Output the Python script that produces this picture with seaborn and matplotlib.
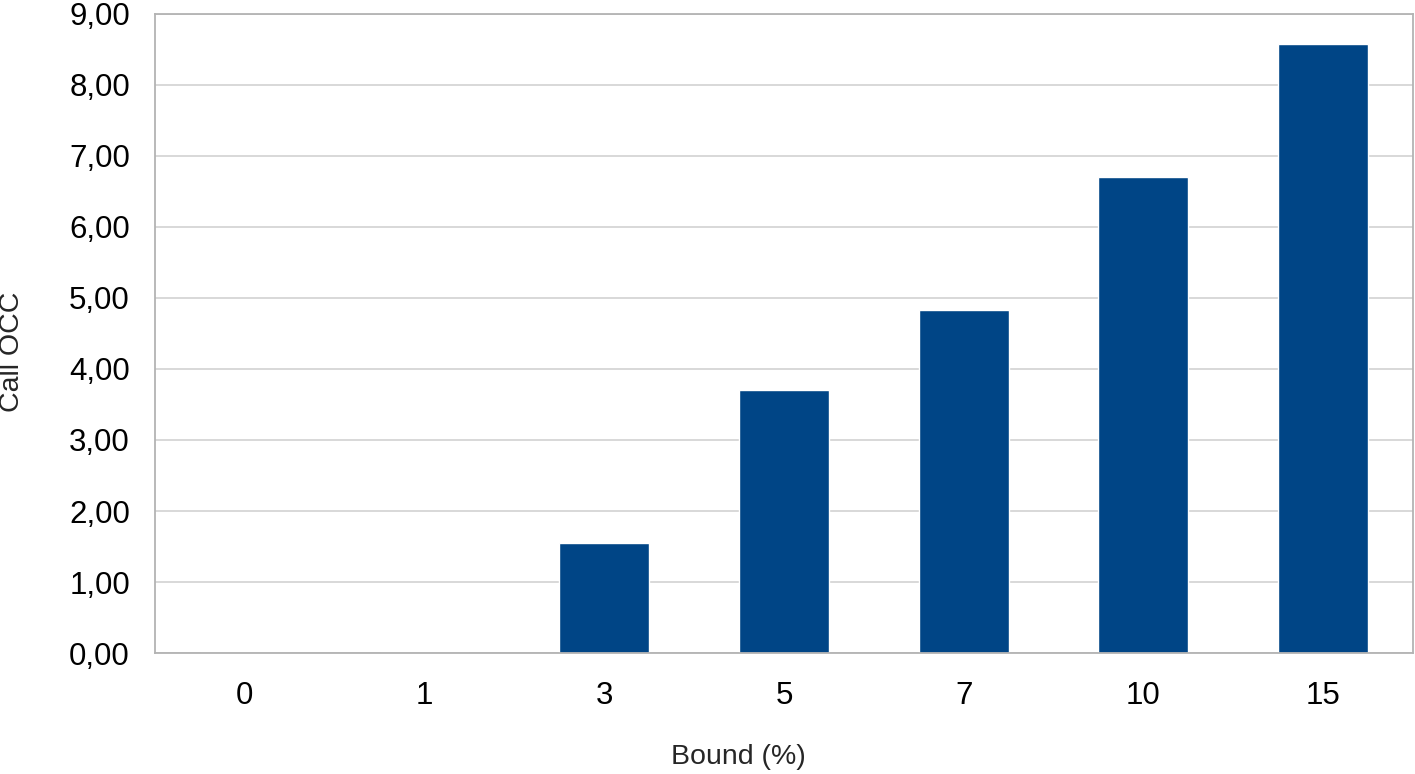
import numpy as np
import pandas as pd
import matplotlib
matplotlib.use("Agg")
import matplotlib.pyplot as plt
import seaborn as sns
from matplotlib.ticker import FuncFormatter, FixedLocator

bounds = ["0", "1", "3", "5", "7", "10", "15"]
call_occ = [0.0, 0.0, 1.55, 3.70, 4.83, 6.70, 8.58]

df = pd.DataFrame({"Bound (%)": bounds, "Call OCC": call_occ})

sns.set_style("white")
plt.rcParams["font.family"] = ["Liberation Sans", "DejaVu Sans"]

fig = plt.figure(figsize=(14.15, 7.74), dpi=100)
ax = fig.add_axes([0.1095, 0.1563, 0.8891, 0.8257])

sns.barplot(data=df, x="Bound (%)", y="Call OCC", color="#004586",
            width=0.5, saturation=1, ax=ax)

ax.set_xlim(-0.5, len(bounds) - 0.5)
ax.set_ylim(0, 9)
ax.set_yticks(np.arange(0, 10, 1))
ax.yaxis.set_major_formatter(FuncFormatter(lambda v, p: f"{v:.2f}".replace(".", ",")))
ax.yaxis.grid(True, color="#d6d6d6", linewidth=1.3)
ax.set_axisbelow(True)

ax.xaxis.set_minor_locator(FixedLocator(np.arange(-0.5, len(bounds), 1)))
ax.tick_params(axis="x", which="major", length=0, labelsize=22.5, pad=20, colors="black")
ax.tick_params(axis="x", which="minor", length=10, width=1.3, color="#b3b3b3")
ax.tick_params(axis="y", which="major", length=9, width=1.3, color="#b3b3b3",
               labelsize=22.5, pad=9, labelcolor="black")

for s in ax.spines.values():
    s.set_color("#b3b3b3")
    s.set_linewidth(1.3)

ax.set_xlabel("Bound (%)", fontsize=20.5)
ax.set_ylabel("Call OCC", fontsize=20.5)
ax.xaxis.set_label_coords(0.464, -0.163)
ax.yaxis.set_label_coords(-0.1137, 0.471)
ax.xaxis.label.set_va("center")
ax.yaxis.label.set_va("center")

fig.savefig("out.png", dpi=100)
